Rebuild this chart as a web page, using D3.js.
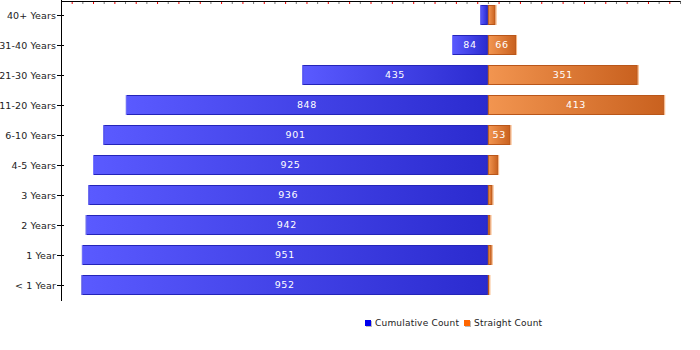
<!DOCTYPE html>
<html><head><meta charset="utf-8">
<script src="https://cdn.jsdelivr.net/npm/d3@7"></script>
<style>body{margin:0;background:#fff}svg{display:block}text{font-family:"DejaVu Sans",sans-serif}</style>
</head><body><svg id="c" width="700" height="350"></svg>
<script>
const categories = ["40+ Years","31-40 Years","21-30 Years","11-20 Years","6-10 Years","4-5 Years","3 Years","2 Years","1 Year","< 1 Year"];
const cumulative = [18,84,435,848,901,925,936,942,951,952];
const straight = [18,66,351,413,53,24,11,6,9,1];
const seriesNames = ["Cumulative Count","Straight Count"];
const xDomain = [-1000, 450];

const svg = d3.select("#c");
const x = d3.scaleLinear().domain(xDomain).range([61, 680]);
const y = d3.scaleBand().domain(categories).range([0, 300]).paddingInner(1/3).paddingOuter(1/6);
const bh = y.bandwidth();

const defs = svg.append("defs");
function grad(id, c1, c2){
  const g = defs.append("linearGradient").attr("id", id).attr("x1","0").attr("x2","1").attr("y1","0").attr("y2","0");
  g.append("stop").attr("offset","0").attr("stop-color",c1);
  g.append("stop").attr("offset","1").attr("stop-color",c2);
}
grad("gb","#5a5aff","#2b2bcf");
grad("go","#f29550","#c9611f");

// top axis ticks
const tv = d3.range(xDomain[0], xDomain[1]+1, 25);
svg.append("g").selectAll("line").data(tv).join("line")
  .attr("x1", d=>x(d)+0.5).attr("x2", d=>x(d)+0.5).attr("y1",1).attr("y2",4)
  .attr("stroke", d => d % 50 === 0 ? "#777" : "#e00").attr("stroke-width",1);
svg.append("line").attr("x1",x(xDomain[0])).attr("x2",x(xDomain[1])+0.5).attr("y1",1.5).attr("y2",1.5).attr("stroke","#000");

// bars
const g = svg.append("g");
categories.forEach((c,i)=>{
  const yy = y(c);
  const x0 = x(0);
  const xb = x(-cumulative[i]);
  const xo = x(straight[i]);
  g.append("rect").attr("x", xb+0.5).attr("y", yy+0.5).attr("width", x0-xb-1).attr("height", bh-1)
    .attr("fill","url(#gb)").attr("stroke","#2424b8").attr("stroke-width",1);
  g.append("line").attr("x1", xb+0.5).attr("x2", xb+0.5).attr("y1", yy).attr("y2", yy+bh).attr("stroke","#7777ff");
  const wo = Math.max(xo-x0, 1.5);
  g.append("rect").attr("x", x0+0.5).attr("y", yy+0.5).attr("width", Math.max(wo-1,0.5)).attr("height", bh-1)
    .attr("fill","url(#go)").attr("stroke","#b9561a").attr("stroke-width",1);
  g.append("line").attr("x1", x0+wo+0.5).attr("x2", x0+wo+0.5).attr("y1", yy).attr("y2", yy+bh).attr("stroke","#f8b27c");
  if (x0-xb > 25) g.append("text").attr("x",(xb+x0)/2).attr("y",yy+bh/2).attr("dy","0.35em")
    .attr("text-anchor","middle").attr("fill","#fff").attr("font-size","9.5px").attr("letter-spacing","0.6px").text(cumulative[i]);
  if (xo-x0 > 20) g.append("text").attr("x",(x0+xo)/2).attr("y",yy+bh/2).attr("dy","0.35em")
    .attr("text-anchor","middle").attr("fill","#fff").attr("font-size","9.5px").attr("letter-spacing","0.6px").text(straight[i]);
});

// left axis
svg.append("line").attr("x1",61.5).attr("x2",61.5).attr("y1",0).attr("y2",301).attr("stroke","#000");
const la = svg.append("g");
categories.forEach(c=>{
  const cy = Math.round(y(c)+bh/2)+0.5;
  la.append("line").attr("x1",57).attr("x2",64).attr("y1",cy).attr("y2",cy).attr("stroke","#000");
  la.append("text").attr("x",56).attr("y",cy).attr("dy","0.35em").attr("text-anchor","end")
    .attr("font-size","9.5px").attr("letter-spacing","0.1px").attr("fill","#222").text(c);
});

// legend
const lg = svg.append("g");
const items = [{name:seriesNames[0], c:"#0000ee", x:365},{name:seriesNames[1], c:"#ff6600", x:464}];
items.forEach(it=>{
  lg.append("rect").attr("x",it.x+1).attr("y",321).attr("width",6).attr("height",6).attr("fill","#bbb");
  lg.append("rect").attr("x",it.x).attr("y",320).attr("width",6).attr("height",6).attr("fill",it.c);
  lg.append("text").attr("x",it.x+10).attr("y",323).attr("dy","0.35em").attr("font-size","9px").attr("letter-spacing","0.2px").attr("fill","#222").text(it.name);
});
</script></body></html>
